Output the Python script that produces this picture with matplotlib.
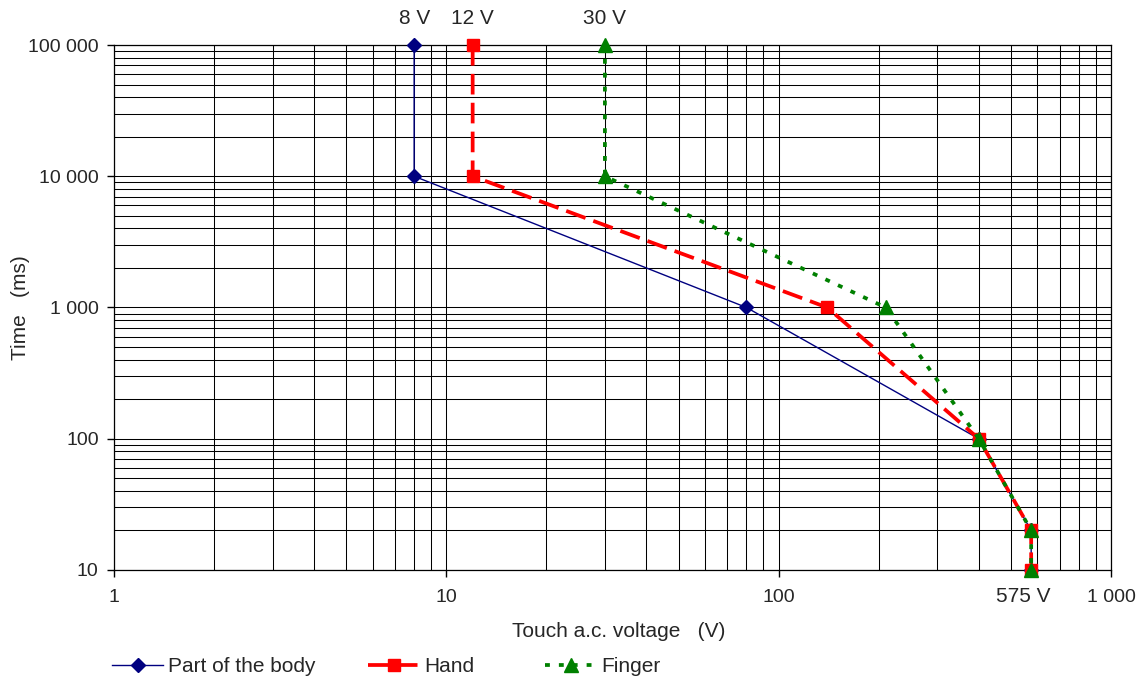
import matplotlib
matplotlib.use("Agg")
import matplotlib.pyplot as plt
from matplotlib.ticker import FixedLocator, LogLocator, NullFormatter

plt.rcParams['font.family'] = ['Liberation Sans', 'DejaVu Sans']

# time/voltage curves
time_ms = [100000, 10000, 1000, 100, 20, 10]
body_v = [8, 8, 80, 400, 575, 575]
hand_v = [12, 12, 140, 400, 575, 575]
finger_v = [30, 30, 210, 400, 575, 575]

x_ticks = [1, 10, 100, 1000]
x_labels = ['1', '10', '100', '1 000']
y_ticks = [10, 100, 1000, 10000, 100000]
y_labels = ['10', '100', '1 000', '10 000', '100 000']

txt = '#262626'
fs = 14
fs_big = 15

fig = plt.figure(figsize=(11.48, 6.86), dpi=100)
ax = fig.add_axes([0.0993, 0.1691, 0.8685, 0.7653])

ax.set_xscale('log')
ax.set_yscale('log')
ax.set_xlim(1, 1000)
ax.set_ylim(10, 100000)

ax.xaxis.set_major_locator(FixedLocator(x_ticks))
ax.xaxis.set_ticklabels(x_labels)
ax.yaxis.set_major_locator(FixedLocator(y_ticks))
ax.yaxis.set_ticklabels(y_labels)
ax.xaxis.set_minor_locator(LogLocator(base=10, subs=range(2, 10)))
ax.yaxis.set_minor_locator(LogLocator(base=10, subs=range(2, 10)))
ax.xaxis.set_minor_formatter(NullFormatter())
ax.yaxis.set_minor_formatter(NullFormatter())

ax.grid(True, which='both', color='black', lw=0.75)
ax.set_axisbelow(True)
ax.tick_params(which='major', direction='out', length=5, width=1,
               colors='black', labelcolor=txt, labelsize=fs)
ax.tick_params(axis='x', which='major', pad=9)
ax.tick_params(axis='y', which='major', pad=6)
ax.tick_params(which='minor', length=0)
for s in ax.spines.values():
    s.set_color('black')
    s.set_linewidth(0.9)

body, = ax.plot(body_v, time_ms, color='#000080', lw=1.0, marker='D',
                ms=7.5, mec='#000080', mfc='#000080', label='Part of the body',
                zorder=3, clip_on=False)
hand, = ax.plot(hand_v, time_ms, color='#FF0000', lw=2.7, dashes=(5.5, 2.2),
                marker='s', ms=8.5, mec='#FF0000', mfc='#FF0000', label='Hand',
                zorder=4, clip_on=False)
finger, = ax.plot(finger_v, time_ms, color='#008000', lw=2.7, dashes=(1.3, 2.4),
                  marker='^', ms=9.5, mec='#008000', mfc='#008000', label='Finger',
                  zorder=5, clip_on=False)

# voltage limits marked above the top and below the axis
for v in (body_v[0], hand_v[0], finger_v[0]):
    ax.annotate(f'{v} V', xy=(v, time_ms[0]), xytext=(0, 19), textcoords='offset points',
                ha='center', va='center', fontsize=fs_big, color=txt)
ax.annotate(f'{body_v[-1]} V', xy=(body_v[-1], time_ms[-1]), xytext=(-6, -19),
            textcoords='offset points', ha='center', va='center', fontsize=fs_big, color=txt)

ax.set_xlabel('Touch a.c. voltage   (V)', fontsize=fs_big, color=txt)
ax.set_ylabel('Time   (ms)', fontsize=fs_big, color=txt)
ax.xaxis.set_label_coords(0.506, -0.118)
ax.xaxis.label.set_va('center')
ax.yaxis.set_label_coords(-0.094, 0.5)
ax.yaxis.label.set_va('center')

# legend entries spread along the bottom
for h, xpos in zip((body, hand, finger), (0.0976, 0.3206, 0.4749)):
    fig.legend(handles=[h], loc='center left', bbox_to_anchor=(xpos, 0.028),
               frameon=False, fontsize=fs_big, handlelength=2.45, handletextpad=0.25,
               borderpad=0, borderaxespad=0, numpoints=1, labelcolor=txt)

fig.savefig('out.png', dpi=100)
